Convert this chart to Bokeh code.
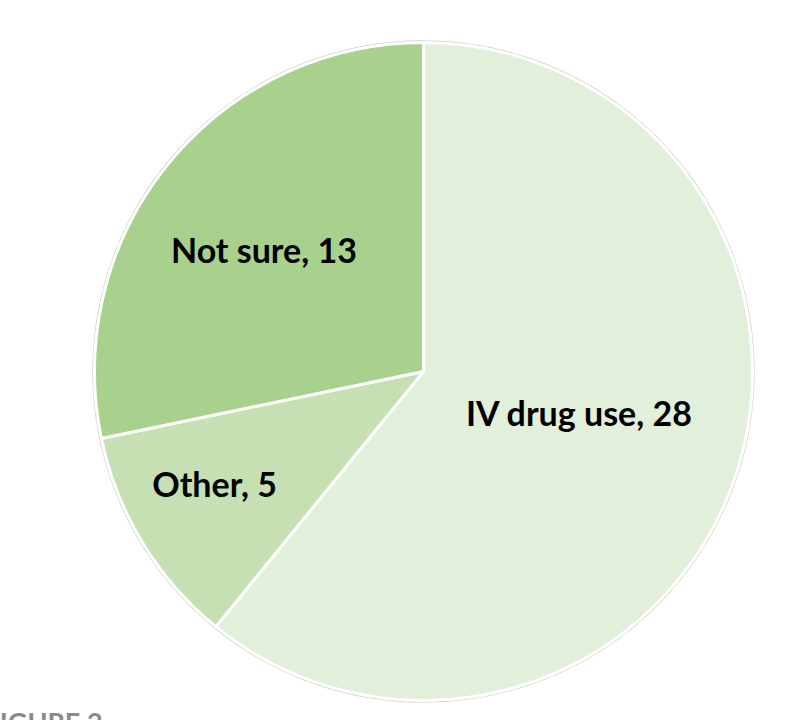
import math
from bokeh.plotting import figure
from bokeh.models import Range1d, ColumnDataSource
from bokeh.core.properties import value
from bokeh.embed import file_html
from bokeh.resources import INLINE

# ---- data ----
categories = ["IV drug use", "Other", "Not sure"]
counts = [28, 5, 13]
colors = ["#E2EFDA", "#C6E0B4", "#A9D18E"]
caption = "FIGURE 2"

# ---- layout (page pixel coordinates, y measured from the page bottom) ----
W, H = 785, 720
cx, cy = 423, 720 - 371     # pie centre
R = 329
label_rf = [0.49, 0.72, 0.61]
label_da = [5.0, -3.2, 1.8]

p = figure(width=W, height=H, output_backend="svg", toolbar_location=None,
           x_range=Range1d(0, W), y_range=Range1d(0, H),
           min_border=0, outline_line_color=None)
p.axis.visible = False
p.grid.visible = False
p.background_fill_color = "white"
p.border_fill_color = "white"

total = sum(counts)
starts, ends, mids = [], [], []
acc = 0
for c in counts:
    a0 = math.pi / 2 - 2 * math.pi * acc / total
    acc += c
    a1 = math.pi / 2 - 2 * math.pi * acc / total
    starts.append(a0)
    ends.append(a1)
    mids.append((a0 + a1) / 2)

# faint outer rim
p.circle(x=[cx], y=[cy], radius=R + 1.5, fill_color=None,
         line_color="#d0d0d0", line_width=1.3)

src = ColumnDataSource(dict(start=starts, end=ends, color=colors))
p.wedge(x=cx, y=cy, radius=R, start_angle="start", end_angle="end",
        direction="clock", fill_color="color", line_color="white",
        line_width=3, source=src)

lx, ly, txt = [], [], []
for cat, c, m, rf, da in zip(categories, counts, mids, label_rf, label_da):
    a = m + math.radians(da)
    lx.append(cx + rf * R * math.cos(a))
    ly.append(cy + rf * R * math.sin(a))
    txt.append(f"{cat}, {c}")

p.text(x=lx, y=ly, text=txt, text_font=value("Lato"), text_font_style="bold",
       text_font_size="34px", text_color="black", text_align="center",
       text_baseline="middle")

p.text(x=[-16], y=[-1], text=[caption], text_font=value("Lato"),
       text_font_style="bold", text_font_size="27px", text_color="#8a8a8a",
       text_align="left", text_baseline="alphabetic")

open("out.html", "w").write(file_html(p, INLINE))
